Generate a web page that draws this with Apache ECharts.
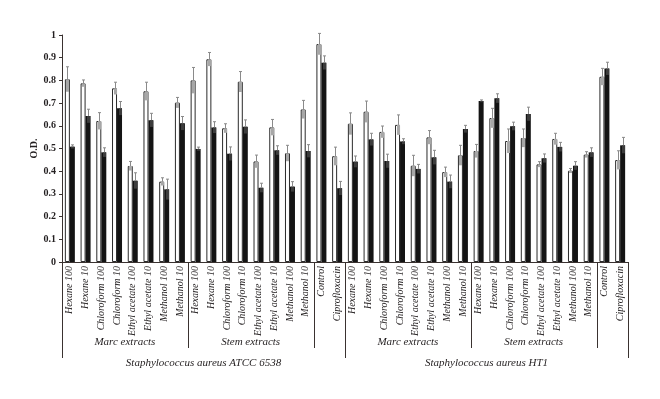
<!DOCTYPE html>
<html>
<head>
<meta charset="utf-8">
<script src="https://cdn.jsdelivr.net/npm/echarts@6/dist/echarts.min.js"></script>
<style>
  html, body { margin: 0; padding: 0; background: #fff; }
  #chart { width: 660px; height: 399px; }
</style>
</head>
<body>
<div id="chart"></div>
<script>
// --- data ---
const extracts = ['Hexane 100', 'Hexane 10', 'Chloroform 100', 'Chloroform 10',
  'Ethyl acetate 100', 'Ethyl acetate 10', 'Methanol 100', 'Methanol 10'];
const oneStrain = [...extracts, ...extracts, 'Control', 'Ciprofloxacin'];
const categories = [...oneStrain, ...oneStrain];

// white (open) bars
const whiteVals = [
  0.805, 0.787, 0.621, 0.765, 0.423, 0.752, 0.354, 0.702,
  0.800, 0.893, 0.589, 0.794, 0.443, 0.593, 0.479, 0.672,
  0.960, 0.466,
  0.609, 0.662, 0.573, 0.604, 0.424, 0.549, 0.396, 0.470,
  0.489, 0.634, 0.533, 0.546, 0.430, 0.542, 0.402, 0.473,
  0.816, 0.449
];
const whiteErr = [
  0.055, 0.015, 0.037, 0.027, 0.020, 0.040, 0.017, 0.023,
  0.057, 0.030, 0.020, 0.045, 0.028, 0.035, 0.035, 0.040,
  0.047, 0.040,
  0.048, 0.047, 0.026, 0.044, 0.046, 0.030, 0.022, 0.044,
  0.029, 0.043, 0.053, 0.040, 0.012, 0.025, 0.010, 0.013,
  0.037, 0.041
];
// black (filled) bars
const blackVals = [
  0.508, 0.643, 0.483, 0.677, 0.358, 0.625, 0.320, 0.611,
  0.498, 0.593, 0.477, 0.596, 0.327, 0.492, 0.332, 0.489,
  0.878, 0.325,
  0.442, 0.540, 0.445, 0.531, 0.410, 0.461, 0.354, 0.586,
  0.709, 0.721, 0.598, 0.652, 0.457, 0.507, 0.424, 0.483,
  0.852, 0.514
];
const blackErr = [
  0.008, 0.030, 0.020, 0.030, 0.035, 0.030, 0.045, 0.030,
  0.008, 0.025, 0.030, 0.030, 0.020, 0.020, 0.022, 0.028,
  0.030, 0.030,
  0.025, 0.027, 0.030, 0.012, 0.020, 0.031, 0.029, 0.016,
  0.005, 0.020, 0.018, 0.030, 0.019, 0.020, 0.018, 0.020,
  0.028, 0.035
];

// group labels: [first index, last index + 1]
const extractGroups = ['Marc extracts', 'Stem extracts', 'Marc extracts', 'Stem extracts'];
const extractSpans = [[0, 8], [8, 16], [18, 26], [26, 34]];
const strainGroups = ['Staphylococcus aureus ATCC 6538', 'Staphylococcus aureus HT1'];
const strainSpans = [[0, 18], [18, 36]];

const FONT = '"Liberation Serif", "DejaVu Serif", serif';
const BAR_W = 5;

const errData = (vals, errs) => vals.map((v, i) => [i, v, errs[i]]);

// error bar: gray lower half inside the bar, thin whisker with cap above
const makeErrRender = (offset, fillColor) => (params, api) => {
  const i = api.value(0);
  const top = api.coord([i, api.value(1)]);
  const hi = api.coord([i, api.value(1) + api.value(2)]);
  const lo = api.coord([i, api.value(1) - api.value(2)]);
  const x = Math.round(top[0] + offset) + 0.5;
  return {
    type: 'group',
    children: [
      {
        type: 'rect',
        shape: { x: x - 1.5, y: top[1], width: 3, height: lo[1] - top[1] },
        style: { fill: fillColor }
      },
      {
        type: 'line',
        shape: { x1: x, y1: top[1], x2: x, y2: hi[1] },
        style: { stroke: '#8a8a8a', lineWidth: 1 }
      },
      {
        type: 'line',
        shape: { x1: x - 1.5, y1: hi[1], x2: x + 1.5, y2: hi[1] },
        style: { stroke: '#8a8a8a', lineWidth: 1 }
      }
    ]
  };
};

const chart = echarts.init(document.getElementById('chart'));

const option = {
  backgroundColor: '#fff',
  animation: false,
  grid: { left: 62, right: 32, top: 35, bottom: 137, containLabel: false },
  xAxis: {
    type: 'category',
    data: categories,
    boundaryGap: true,
    axisLine: { lineStyle: { color: '#3a3230', width: 1 } },
    axisTick: { show: false },
    axisLabel: {
      interval: 0,
      rotate: 90,
      margin: 4,
      fontFamily: FONT,
      fontStyle: 'italic',
      fontSize: 10,
      color: '#231f20'
    },
    splitLine: { show: false }
  },
  yAxis: {
    type: 'value',
    min: 0,
    max: 1,
    interval: 0.1,
    name: 'O.D.',
    nameLocation: 'middle',
    nameRotate: 90,
    nameGap: 23,
    nameMoveOverlap: false,
    nameTextStyle: { fontFamily: FONT, fontWeight: 'bold', fontSize: 10, color: '#231f20' },
    axisLine: { show: true, lineStyle: { color: '#3a3230', width: 1 } },
    axisTick: { show: true, length: 3, lineStyle: { color: '#3a3230' } },
    axisLabel: {
      margin: 6,
      fontFamily: FONT,
      fontWeight: 'bold',
      fontSize: 10,
      color: '#231f20'
    },
    splitLine: { show: false }
  },
  series: [
    {
      name: 'white',
      type: 'bar',
      data: whiteVals,
      barWidth: BAR_W,
      barGap: '0%',
      itemStyle: { color: '#ffffff', borderColor: '#2b2b2b', borderWidth: 1 }
    },
    {
      name: 'black',
      type: 'bar',
      data: blackVals,
      barWidth: BAR_W,
      barGap: '0%',
      itemStyle: { color: '#141414', borderColor: '#141414', borderWidth: 0 }
    },
    {
      type: 'custom',
      data: errData(whiteVals, whiteErr),
      renderItem: makeErrRender(-BAR_W / 2, '#a7a7a7'),
      encode: { x: 0, y: 1 },
      z: 3
    },
    {
      type: 'custom',
      data: errData(blackVals, blackErr),
      renderItem: makeErrRender(BAR_W / 2, '#3c3c3c'),
      encode: { x: 0, y: 1 },
      z: 3
    }
  ]
};

chart.setOption(option);

// --- group separators and group labels under the axis ---
const drawGroups = () => {
  const c0 = chart.convertToPixel({ xAxisIndex: 0 }, 0);
  const c1 = chart.convertToPixel({ xAxisIndex: 0 }, 1);
  const band = c1 - c0;
  const edge = (i) => c0 - band / 2 + i * band;
  const baseY = chart.convertToPixel({ yAxisIndex: 0 }, 0);

  const elements = [];
  const lineStyle = { stroke: '#3a3230', lineWidth: 1 };
  const vline = (x, len) => ({
    type: 'line',
    shape: { x1: Math.round(x) + 0.5, y1: baseY, x2: Math.round(x) + 0.5, y2: baseY + len },
    style: lineStyle,
    silent: true
  });

  // inner separators (extract groups)
  const inner = new Set();
  extractSpans.forEach(([a, b]) => { inner.add(a); inner.add(b); });
  const outer = new Set();
  strainSpans.forEach(([a, b]) => { outer.add(a); outer.add(b); });
  inner.forEach((i) => { if (!outer.has(i)) elements.push(vline(edge(i), 86)); });
  outer.forEach((i) => elements.push(vline(edge(i), 96)));

  extractGroups.forEach((name, k) => {
    const [a, b] = extractSpans[k];
    elements.push({
      type: 'text',
      x: (edge(a) + edge(b)) / 2,
      y: baseY + 80,
      style: {
        text: name,
        fontFamily: FONT,
        fontStyle: 'italic',
        fontSize: 11,
        fill: '#231f20',
        align: 'center',
        verticalAlign: 'middle'
      },
      silent: true
    });
  });

  strainGroups.forEach((name, k) => {
    const [a, b] = strainSpans[k];
    elements.push({
      type: 'text',
      x: (edge(a) + edge(b)) / 2,
      y: baseY + 101,
      style: {
        text: name,
        fontFamily: FONT,
        fontStyle: 'italic',
        fontSize: 11,
        fill: '#231f20',
        align: 'center',
        verticalAlign: 'middle'
      },
      silent: true
    });
  });

  chart.setOption({ graphic: { elements } });
};

drawGroups();
</script>
</body>
</html>
